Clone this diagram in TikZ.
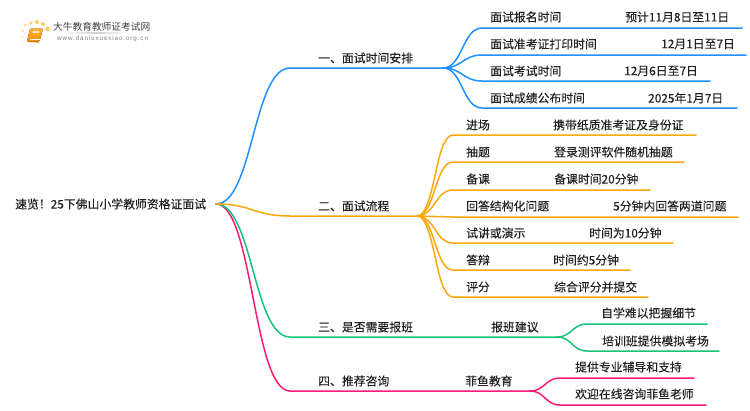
\documentclass[tikz,border=0pt]{standalone}
\usepackage{fontspec}
\setmainfont[RawFeature={embolden=0.1}]{Noto Sans CJK SC}
\newfontfamily\latinlogo[LetterSpace=14]{Liberation Sans}
\newfontfamily\logocjk{Noto Sans CJK SC}
\usetikzlibrary{calc}
\definecolor{cblue}{HTML}{1E90FF}
\definecolor{corange}{HTML}{FBA80F}
\definecolor{cgreen}{HTML}{17C27A}
\definecolor{cpink}{HTML}{FF1A78}
\definecolor{ctext}{HTML}{222222}
\definecolor{booktop}{HTML}{FFB52E}
\definecolor{bookbot}{HTML}{F08A0C}
\tikzset{
  lab/.style={anchor=west,inner sep=0pt,text=ctext,font=\fontsize{11.85}{14}\selectfont},
  conn/.style={line width=1.5pt,line cap=round},
}
\newcommand{\sbranch}[4][]{\draw[conn,#1] (#2) .. controls ($(#2)!0.5!(#3|-#2)$) and ($(#2)!0.5!(#3|-#2)+(#3)-(#3|-#2)$) .. (#3) -- (#4);}
\begin{document}
\begin{tikzpicture}[x=1pt,y=-1pt]
\useasboundingbox (0,0) rectangle (750,410);
\fill[white] (0,0) rectangle (750,410);

% logo
\foreach \px/\py/\pr/\pc in {25/25/1.6/FFD98A,31/23/1.9/FFCF6B,37/22/2/FFCB5C,43/24/2/FFCB5C,47.5/29/2.3/FFC94F,23/31/1.4/FFE2A6,22/37/1.2/FFEBC4,23.5/42.5/1/FFF0D2}{
  \definecolor{tmpc}{HTML}{\pc}
  \fill[tmpc] (\px,\py) circle (\pr);
}
\fill[rounded corners=1pt,top color=booktop,bottom color=bookbot]
  (30,28.5) -- (43,28.5) -- (39.5,41.5) -- (27,41.5) -- cycle;
\draw[white,line width=0.5pt] (30,39.5) -- (40,39.5);
\draw[bookbot,line width=0.6pt] (27,41.8) -- (39.5,42.3);
\fill[white,opacity=.75] (33,31) -- (39.5,31) -- (39,33) -- (32.5,33) -- cycle;
\path[left color=white,right color=white,middle color=black!18] (62,32.7) rectangle (130,33.4);
\node[anchor=west,inner sep=0pt,text=black!75] (logot) at (53,26.5) {\fontsize{9.7}{12}\logocjk 大牛教育教师证考试网};
\node[anchor=west,inner sep=0pt,text=black!50] (logou) at (57,39) {\fontsize{6.3}{8}\latinlogo www.daniuxuexiao.org.cn};

% labels
\node[lab] (root) at (15,204) {速览！25下佛山小学教师资格证面试};
\coordinate (r0) at (216,204);

\node[lab] (a) at (318,58) {一、面试时间安排};
\node[lab] (b) at (318,206) {二、面试流程};
\node[lab] (c) at (318,327) {三、是否需要报班};
\node[lab] (d) at (318,381) {四、推荐咨询};

\coordinate (a1) at (290,68);  \coordinate (a2) at (443,68);
\coordinate (b1) at (290,216); \coordinate (b2) at (417,216);
\coordinate (c1) at (290,337); \coordinate (c2) at (557,337);
\coordinate (d1) at (290,391); \coordinate (d2) at (530,391);

\sbranch[cpink]{r0}{d1}{d2}
\sbranch[cgreen]{r0}{c1}{c2}
\sbranch[cblue]{r0}{a1}{a2}
\sbranch[corange]{r0}{b1}{b2}

% blue leaves
\foreach \n/\ly/\ty/\e/\ta/\xb/\tb in {
 1/28/17/742/面试报名时间/625/预计11月8日至11日,
 2/55/44/746/面试准考证打印时间/661/12月1日至7日,
 3/81/71/710/面试考试时间/624/12月6日至7日,
 4/108/98/737/面试成绩公布时间/648/2025年1月7日}{
  \node[lab] (at\n) at (490,\ty) {\ta};
  \node[lab] (av\n) at (\xb,\ty) {\tb};
  \coordinate (as\n) at (482,\ly);
  \coordinate (ae\n) at (\e,\ly);
  \sbranch[cblue]{a2}{as\n}{ae\n}
}
% orange leaves
\foreach \n/\ly/\ty/\e/\ta/\xb/\tb in {
 1/135/125/696/进场/553/携带纸质准考证及身份证,
 2/162/152/684/抽题/554/登录测评软件随机抽题,
 3/190/179/650/备课/554/备课时间20分钟,
 4/217/206/738/回答结构化问题/613/5分钟内回答两道问题,
 5/243/233/673/试讲或演示/589/时间为10分钟,
 6/270/260/630/答辩/553/时间约5分钟,
 7/297/287/648/评分/554/综合评分并提交}{
  \node[lab] (bt\n) at (466,\ty) {\ta};
  \node[lab] (bv\n) at (\xb,\ty) {\tb};
  \coordinate (bs\n) at (453,\ly);
  \coordinate (be\n) at (\e,\ly);
  \sbranch[corange]{b2}{bs\n}{be\n}
}
% green
\node[lab] (cm) at (491,327) {报班建议};
\foreach \n/\ly/\ty/\e/\xa/\ta in {
 1/324/313/707/601/自学难以把握细节,
 2/351/341/719/602/培训班提供模拟考场}{
  \node[lab] (ct\n) at (\xa,\ty) {\ta};
  \coordinate (cs\n) at (587,\ly);
  \coordinate (ce\n) at (\e,\ly);
  \sbranch[cgreen]{c2}{cs\n}{ce\n}
}
% pink
\node[lab] (dm) at (465,381) {菲鱼教育};
\foreach \n/\ly/\ty/\e/\xa/\ta in {
 1/378/367/694/575/提供专业辅导和支持,
 2/405/394/706/575/欢迎在线咨询菲鱼老师}{
  \node[lab] (dt\n) at (\xa,\ty) {\ta};
  \coordinate (ds\n) at (560,\ly);
  \coordinate (de\n) at (\e,\ly);
  \sbranch[cpink]{d2}{ds\n}{de\n}
}
\end{tikzpicture}
\end{document}
